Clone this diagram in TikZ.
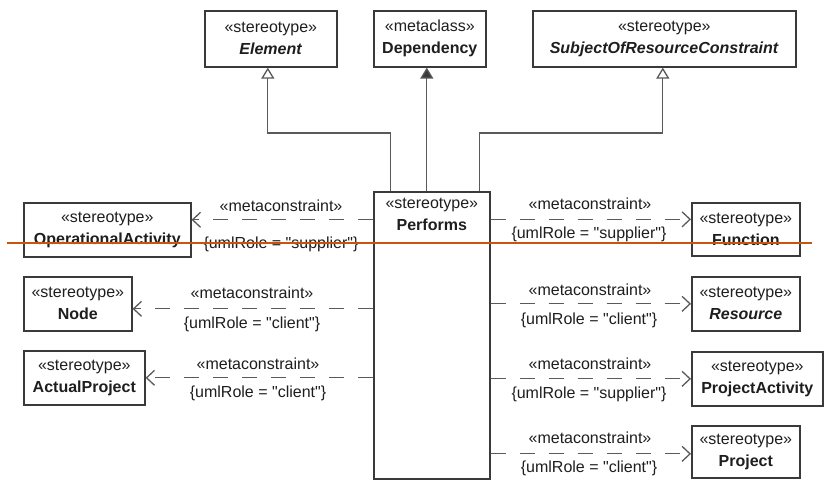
\documentclass[tikz,border=0pt]{standalone}
\usepackage{fontspec}
\setmainfont{Liberation Sans}[Ligatures=TeXOff]
\usetikzlibrary{arrows.meta}
\definecolor{boxc}{HTML}{3A3A3A}
\definecolor{linec}{HTML}{5A5A5A}
\definecolor{txtc}{HTML}{1E1E1E}
\definecolor{marker}{RGB}{200,85,15}
\newcommand{\umlfont}{\fontsize{16}{22}\selectfont}
\tikzset{
  umlbox/.style={draw=boxc, line width=1.6pt, fill=white, align=center,
    inner sep=0pt, text=txtc, font=\umlfont, anchor=north west},
  genline/.style={draw=linec, line width=1.3pt,
    -{Triangle[open, length=11pt, width=13pt, fill=white]}},
  realline/.style={draw=linec, line width=1.3pt,
    -{Triangle[length=11pt, width=13pt, fill=boxc]}},
  depline/.style={draw=linec, line width=1.3pt, dash pattern=on 15pt off 14pt,
    -{Straight Barb[length=8pt, width=15pt]}},
  deplabel/.style={font=\umlfont, text=txtc, inner sep=0pt}
}
\begin{document}
\begin{tikzpicture}[x=1pt, y=-1pt]
  \path[use as bounding box, fill=white] (0,0) rectangle (830,480);

  % metaclass and parent stereotypes
  \node[umlbox, minimum width=132, minimum height=56] (elem) at (204,10)
    {«stereotype»\\\textbf{\textit{Element}}};
  \node[umlbox, minimum width=112, minimum height=56] (dep) at (373,10)
    {«metaclass»\\\textbf{Dependency}};
  \node[umlbox, minimum width=263, minimum height=56] (sorc) at (532,10)
    {«stereotype»\\\textbf{\textit{SubjectOfResourceConstraint}}};

  % the Performs stereotype
  \node[umlbox, minimum width=116, minimum height=287] (perf) at (373,191) {};
  \node[deplabel, align=center, anchor=north] (perftext) at ([yshift=-7pt]perf.north)
    {«stereotype»\\\textbf{Performs}};

  % left-hand stereotypes
  \node[umlbox, minimum width=167, minimum height=54] (opact) at (23,202)
    {«stereotype»\\\textbf{OperationalActivity}};
  \node[umlbox, minimum width=108, minimum height=54] (nodebox) at (23,276)
    {«stereotype»\\\textbf{Node}};
  \node[umlbox, minimum width=121, minimum height=54] (actproj) at (23,350)
    {«stereotype»\\\textbf{ActualProject}};

  % right-hand stereotypes
  \node[umlbox, minimum width=108, minimum height=53] (func) at (691,202)
    {«stereotype»\\\textbf{Function}};
  \node[umlbox, minimum width=108, minimum height=54] (res) at (691,276)
    {«stereotype»\\\textbf{\textit{Resource}}};
  \node[umlbox, minimum width=131, minimum height=54] (pact) at (691,351)
    {«stereotype»\\\textbf{ProjectActivity}};
  \node[umlbox, minimum width=108, minimum height=52] (proj) at (691,425)
    {«stereotype»\\\textbf{Project}};

  % generalizations and the extension
  \coordinate (bend) at (0,133);
  \coordinate (pgl) at ([xshift=-41pt]perf.north);
  \coordinate (pgr) at ([xshift=48pt]perf.north);
  \coordinate (pgm) at ([xshift=-5pt]perf.north);
  \coordinate (elemIn) at ([xshift=-3pt]elem.south);
  \coordinate (sorcIn) at ([xshift=-1.5pt]sorc.south);
  \draw[genline] (pgl) -- (pgl |- bend) -- (elemIn |- bend) -- (elemIn);
  \draw[genline] (pgr) -- (pgr |- bend) -- (sorcIn |- bend) -- (sorcIn);
  \draw[realline] (pgm) -- (pgm |- dep.south);

  % metaconstraints, left side
  \coordinate (oaIn) at ([yshift=10pt]opact.east);
  \coordinate (ndIn) at ([yshift=-5pt]nodebox.east);
  \coordinate (apIn) at (actproj.east);
  \draw[depline] (perf.west |- oaIn) -- (oaIn);
  \draw[depline] (perf.west |- ndIn) -- (ndIn);
  \draw[depline] (perf.west |- apIn) -- (apIn);
  \node[deplabel] (oaMc) at (281,206) {«metaconstraint»};
  \node[deplabel] (oaRole) at (281,244) {\{umlRole = "supplier"\}};
  \node[deplabel] (ndMc) at (252,293) {«metaconstraint»};
  \node[deplabel] (ndRole) at (252,324) {\{umlRole = "client"\}};
  \node[deplabel] (apMc) at (258,364) {«metaconstraint»};
  \node[deplabel] (apRole) at (258,393) {\{umlRole = "client"\}};

  % metaconstraints, right side
  \coordinate (fnIn) at ([yshift=10pt]func.west);
  \coordinate (rsIn) at (res.west);
  \coordinate (paIn) at (pact.west);
  \coordinate (pjIn) at ([yshift=-2pt]proj.west);
  \draw[depline] (perf.east |- fnIn) -- (fnIn);
  \draw[depline] (perf.east |- rsIn) -- (rsIn);
  \draw[depline] (perf.east |- paIn) -- (paIn);
  \draw[depline] (perf.east |- pjIn) -- (pjIn);
  \node[deplabel] (fnMc) at (590,204) {«metaconstraint»};
  \node[deplabel] (fnRole) at (589,234) {\{umlRole = "supplier"\}};
  \node[deplabel] (rsMc) at (590,290) {«metaconstraint»};
  \node[deplabel] (rsRole) at (589,320) {\{umlRole = "client"\}};
  \node[deplabel] (paMc) at (590,364) {«metaconstraint»};
  \node[deplabel] (paRole) at (589,394) {\{umlRole = "supplier"\}};
  \node[deplabel] (pjMc) at (590,438) {«metaconstraint»};
  \node[deplabel] (pjRole) at (589,468) {\{umlRole = "client"\}};

  % horizontal marker line across the page
  \draw[marker, line width=2pt] (7,243) -- (812,243);
\end{tikzpicture}
\end{document}
